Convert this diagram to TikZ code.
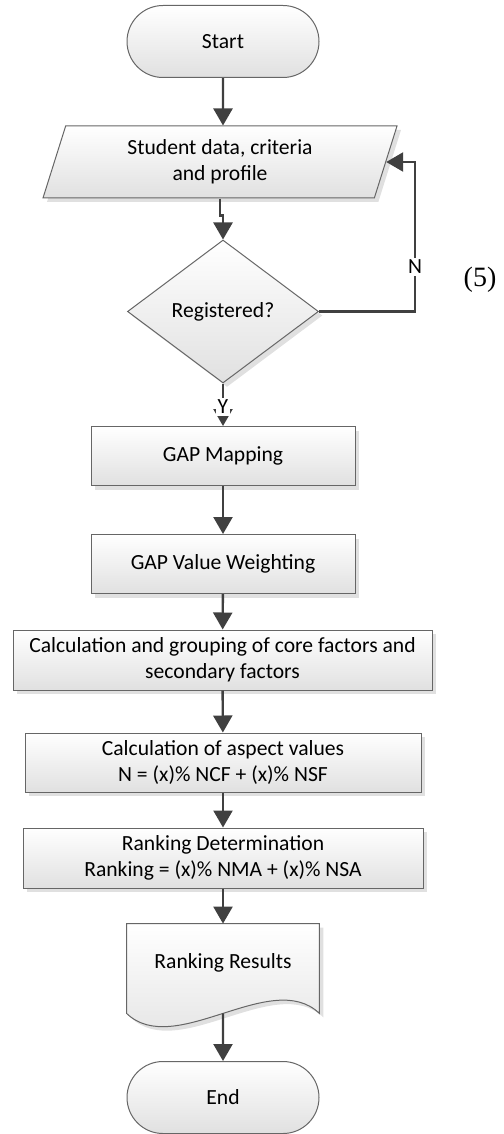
\documentclass[tikz,border=0pt]{standalone}
\usepackage{fontspec}
\setmainfont{Carlito}
\newfontfamily\eqfont{Liberation Serif}
\usetikzlibrary{arrows.meta,shapes.geometric,shapes.misc,shadows,positioning}

\begin{document}
\begin{tikzpicture}[x=0.5pt, y=-0.5pt,
  font=\fontsize{10.8}{13}\selectfont,
  boxbase/.style={draw=black!60, line width=0.5pt, top color=white, bottom color=black!12, align=center, inner sep=0pt},
  shadowed/.style={drop shadow={shadow xshift=2pt, shadow yshift=-2pt, fill=black!12, opacity=1}},
  term/.style={boxbase, rounded rectangle, minimum width=96pt, minimum height=36pt},
  io/.style={boxbase, shadowed, trapezium, trapezium left angle=63, trapezium right angle=117, trapezium stretches body, minimum width=177pt, minimum height=36pt},
  decide/.style={boxbase, shadowed, diamond, aspect=1.34, minimum width=95.5pt, minimum height=71.5pt},
  proc/.style={boxbase, shadowed, rectangle, minimum height=29.5pt},
  arrowline/.style={draw=black!75, line width=1.2pt, -{Triangle[length=8.5pt, width=9.5pt]}},
  lbl/.style={fill=white, inner sep=1pt}]
\useasboundingbox (0,0) rectangle (503,1134);
%\draw [help lines, step=50pt] (0,0) grid (503,1134);

\node[term] (start) at (223,41.5) {Start};
\node[io] (data) at (220,162) {Student data, criteria\\and profile};
\node[decide] (reg) at (223,311.5) {Registered?};
\node[proc, minimum width=132pt] (map) at (223,456) {GAP Mapping};
\node[proc, minimum width=132pt] (weight) at (223,564) {GAP Value Weighting};
\node[proc, minimum width=209.5pt, minimum height=30pt] (core) at (222.5,660) {Calculation and grouping of core factors and\\secondary factors};
\node[proc, minimum width=198pt] (aspect) at (223,762.5) {Calculation of aspect values\\N = (x)\% NCF + (x)\% NSF};
\node[proc, minimum width=200pt, minimum height=30pt] (rank) at (223,858) {Ranking Determination\\Ranking = (x)\% NMA + (x)\% NSA};
\node[minimum width=96pt, minimum height=44.5pt, inner sep=0pt, text depth=8pt] (result) at (223,968.5) {};
\node[term] (finish) at (223,1097.5) {End};
\node[font=\eqfont\fontsize{14}{16}\selectfont] (eqnum) at (480,280) {(5)};
\coordinate (loop) at (415,0);

% document shape, then its text on top
\path[boxbase, shadowed] (result.north west) -- (result.north east) -- (result.south east)
  .. controls +(-48,-46) and +(48,46) .. (result.south west) -- cycle;
\node[minimum width=96pt, minimum height=44.5pt, inner sep=0pt, text depth=8pt] at (result) {Ranking Results};

\draw[arrowline] (start) -- (start.south |- data.north);
\draw[arrowline] (data.center |- data.south) -- ++(0,17) -| (reg.north);
\draw[arrowline] (reg.east) -| node[lbl, pos=0.65] {N} (loop |- data.east) -- (data.east);
\draw[arrowline] (reg) -- node[lbl, pos=0.55] {Y} (map);
\draw[arrowline] (map) -- (weight);
\draw[arrowline] (weight) -- (core);
\draw[arrowline] (core) -- (aspect);
\draw[arrowline] (aspect) -- (rank);
\draw[arrowline] (rank) -- (result);
\draw[arrowline] (result) -- (finish);
\end{tikzpicture}
\end{document}
